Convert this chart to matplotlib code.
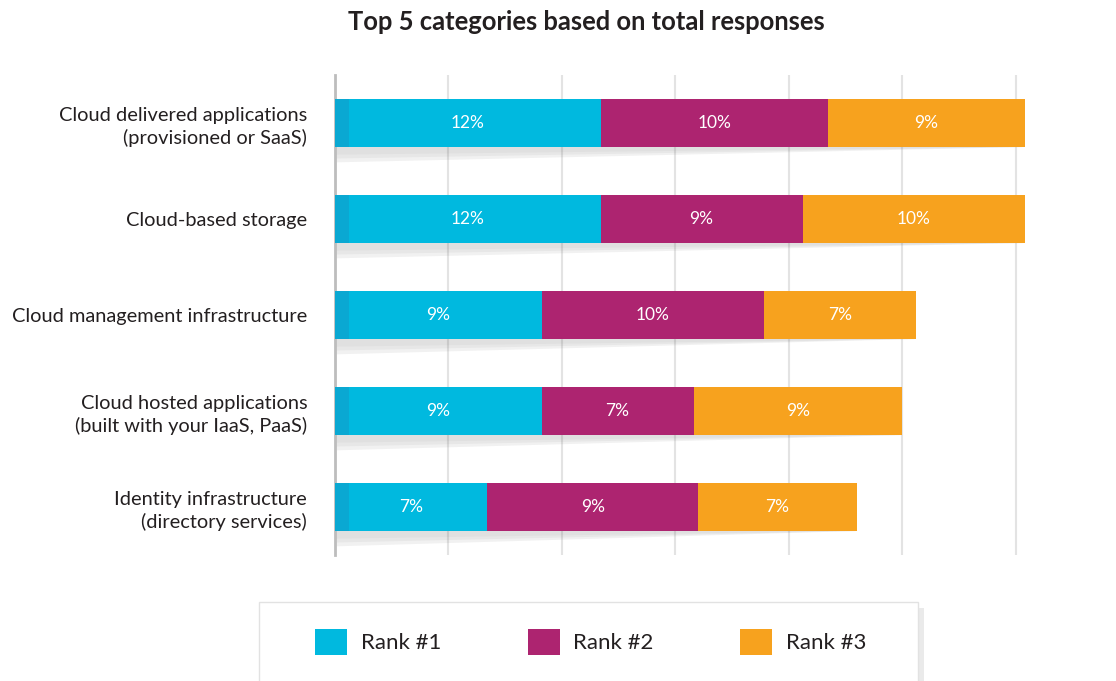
import matplotlib.pyplot as plt
from matplotlib.patches import Rectangle, Polygon

# data (share of total responses, %)
categories = [
    "Cloud delivered applications\n(provisioned or SaaS)",
    "Cloud-based storage",
    "Cloud management infrastructure",
    "Cloud hosted applications\n(built with your IaaS, PaaS)",
    "Identity infrastructure\n(directory services)",
]
rank1 = [11.7, 11.7, 9.1, 9.1, 6.7]
rank2 = [10.0, 8.9, 9.8, 6.7, 9.3]
rank3 = [8.7, 9.8, 6.7, 9.2, 7.0]
labels1 = ["12%", "12%", "9%", "9%", "7%"]
labels2 = ["10%", "9%", "10%", "7%", "9%"]
labels3 = ["9%", "10%", "7%", "9%", "7%"]
series_names = ["Rank #1", "Rank #2", "Rank #3"]
colors = ["#00B9DF", "#AD2470", "#F7A21E"]

plt.rcParams['font.family'] = ['Lato', 'DejaVu Sans']
text_color = "#231F20"

fig = plt.figure(figsize=(11.16, 6.81), dpi=100)
ax = fig.add_axes([335 / 1116, 1 - 555 / 681, 715 / 1116, 480 / 681])

y = list(range(len(categories)))
h = 0.5
b1 = ax.barh(y, rank1, height=h, color=colors[0], label=series_names[0], zorder=3)
left2 = rank1
b2 = ax.barh(y, rank2, height=h, left=left2, color=colors[1], label=series_names[1], zorder=3)
left3 = [a + b for a, b in zip(rank1, rank2)]
b3 = ax.barh(y, rank3, height=h, left=left3, color=colors[2], label=series_names[2], zorder=3)

# soft shadow wedge under every bar and darker left edge
for yi, r1, r2, r3 in zip(y, rank1, rank2, rank3):
    total = r1 + r2 + r3
    for k, a in enumerate([0.10, 0.08, 0.06]):
        depth = 0.16 - k * 0.04
        ax.add_patch(Polygon([(0, yi + h / 2), (total, yi + h / 2), (0, yi + h / 2 + depth)],
                             closed=True, color="#777777", alpha=a, lw=0, zorder=2))
    ax.add_patch(Rectangle((0, yi - h / 2), 0.6, h, color="#0AA8D2", lw=0, zorder=4))

for bars, labs in [(b1, labels1), (b2, labels2), (b3, labels3)]:
    ax.bar_label(bars, labels=labs, label_type='center', color='white', fontsize=12.5, zorder=5)

ax.set_xlim(0, 31.5)
ax.set_ylim(4.5, -0.5)
ax.set_xticks([0, 5, 10, 15, 20, 25, 30])
ax.xaxis.grid(True, color="#E3E3E3", lw=1.5, zorder=0)
ax.tick_params(axis='x', length=0, labelbottom=False)
ax.tick_params(axis='y', length=0, pad=20)
ax.set_yticks(y)
ax.set_yticklabels(categories, fontsize=14.4, color=text_color, linespacing=1.3)
for s in ["top", "right", "bottom"]:
    ax.spines[s].set_visible(False)
ax.spines["left"].set_color("#BDBDBD")
ax.spines["left"].set_linewidth(2)

fig.text(586 / 1116, 1 - 22 / 681, "Top 5 categories based on total responses",
         ha='center', va='center', fontsize=18.4, fontweight='bold', color=text_color)

# legend box with a light shadow
fig.patches.append(Rectangle((264 / 1116, -0.05), 660 / 1116, (681 - 608) / 681 + 0.05,
                             transform=fig.transFigure, facecolor="#DCDCDC", edgecolor='none',
                             alpha=0.6, zorder=0))
fig.patches.append(Rectangle((259 / 1116, -0.05), 659 / 1116, (681 - 602) / 681 + 0.05,
                             transform=fig.transFigure, facecolor="white", edgecolor="#E2E2E2",
                             lw=1, zorder=1))
leg = fig.legend(handles=[b1, b2, b3], labels=series_names, loc='center left',
                 bbox_to_anchor=(295 / 1116, 1 - 642 / 681), ncol=3, frameon=False,
                 fontsize=16, handlelength=1.45, handleheight=1.4, handletextpad=0.6,
                 columnspacing=3.9, labelcolor=text_color)
leg.set_zorder(5)

fig.savefig("out.png", dpi=100)
